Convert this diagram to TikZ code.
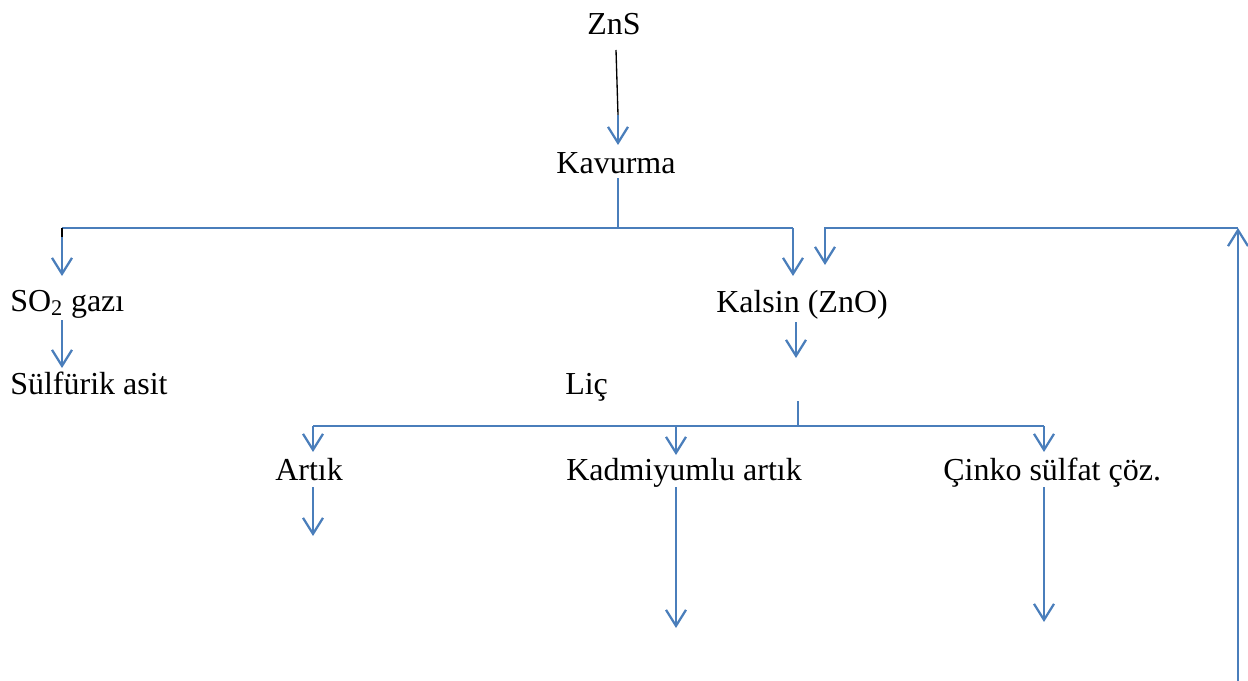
\documentclass[tikz,border=0pt]{standalone}
\usepackage{fontspec}
\setmainfont{Liberation Serif}
\usetikzlibrary{arrows.meta}
\definecolor{lineblue}{RGB}{74,126,187}
\begin{document}
\begin{tikzpicture}[x=0.75pt,y=-0.75pt,
  lbl/.style={inner sep=0pt,font=\fontsize{24}{28}\selectfont},
  flow/.style={draw=lineblue,line width=1.7pt},
  arr/.style={flow,-{Straight Barb[length=12pt,width=15pt,line width=1.7pt]}},
  blk/.style={draw=black,line width=1pt}]
\useasboundingbox (0,0) rectangle (1248,681);

% texts
\node[lbl,anchor=base] (zns) at (614,35) {ZnS};
\node[lbl,anchor=base] (kav) at (616,173) {Kavurma};
\node[lbl,anchor=base west] (so2) at (10,311) {SO\textsubscript{2} gazı};
\node[lbl,anchor=base west] (sulf) at (10,394) {Sülfürik asit};
\node[lbl,anchor=base west] (kalsin) at (716,312) {Kalsin (ZnO)};
\node[lbl,anchor=base west] (lic) at (565,394) {Liç};
\node[lbl,anchor=base west] (artik) at (275,480) {Artık};
\node[lbl,anchor=base west] (kadm) at (566,480) {Kadmiyumlu artık};
\node[lbl,anchor=base west] (cinko) at (943,480) {Çinko sülfat çöz.};

% coordinates
\coordinate (z1) at (616,50);
\coordinate (z2) at (618,115);
\coordinate (z3) at (618,145);
\coordinate (k1) at (618,178);
\coordinate (k2) at (618,228);
\coordinate (hl) at (62,228);
\coordinate (hl2) at (62,237);
\coordinate (so2tip) at (62,276);
\coordinate (hr) at (793,228);
\coordinate (kaltip) at (793,276);
\coordinate (s1) at (62,320);
\coordinate (s2) at (62,368);
\coordinate (fb0) at (1238,681);
\coordinate (fb1) at (1238,228);
\coordinate (fb2) at (825,228);
\coordinate (fb3) at (825,265);
\coordinate (c1) at (796,322);
\coordinate (c2) at (796,358);
\coordinate (t1) at (798,401);
\coordinate (t2) at (798,426);
\coordinate (ha) at (313,426);
\coordinate (hb) at (676,426);
\coordinate (hc) at (1044,426);
\coordinate (ta) at (313,452);
\coordinate (tb) at (676,455);
\coordinate (tc) at (1044,452);
\coordinate (a1) at (313,487);
\coordinate (a2) at (313,536);
\coordinate (b1) at (676,487);
\coordinate (b2) at (676,628);
\coordinate (d1) at (1044,487);
\coordinate (d2) at (1044,622);

% connectors
\draw[blk] (z1) -- (z2);
\draw[arr] (z2) -- (z3);
\draw[flow] (k1) -- (k2);
\draw[flow] (hl) -- (hr);
\draw[blk] (hl) -- (hl2);
\draw[arr] (hl2) -- (so2tip);
\draw[arr] (hr) -- (kaltip);
\draw[arr] (s1) -- (s2);
\draw[arr] (fb0) -- (fb1);
\draw[arr] (fb1) -- (fb2) -- (fb3);
\draw[arr] (c1) -- (c2);
\draw[flow] (t1) -- (t2);
\draw[flow] (ha) -- (hc);
\draw[arr] (ha) -- (ta);
\draw[arr] (hb) -- (tb);
\draw[arr] (hc) -- (tc);
\draw[arr] (a1) -- (a2);
\draw[arr] (b1) -- (b2);
\draw[arr] (d1) -- (d2);
\end{tikzpicture}
\end{document}
